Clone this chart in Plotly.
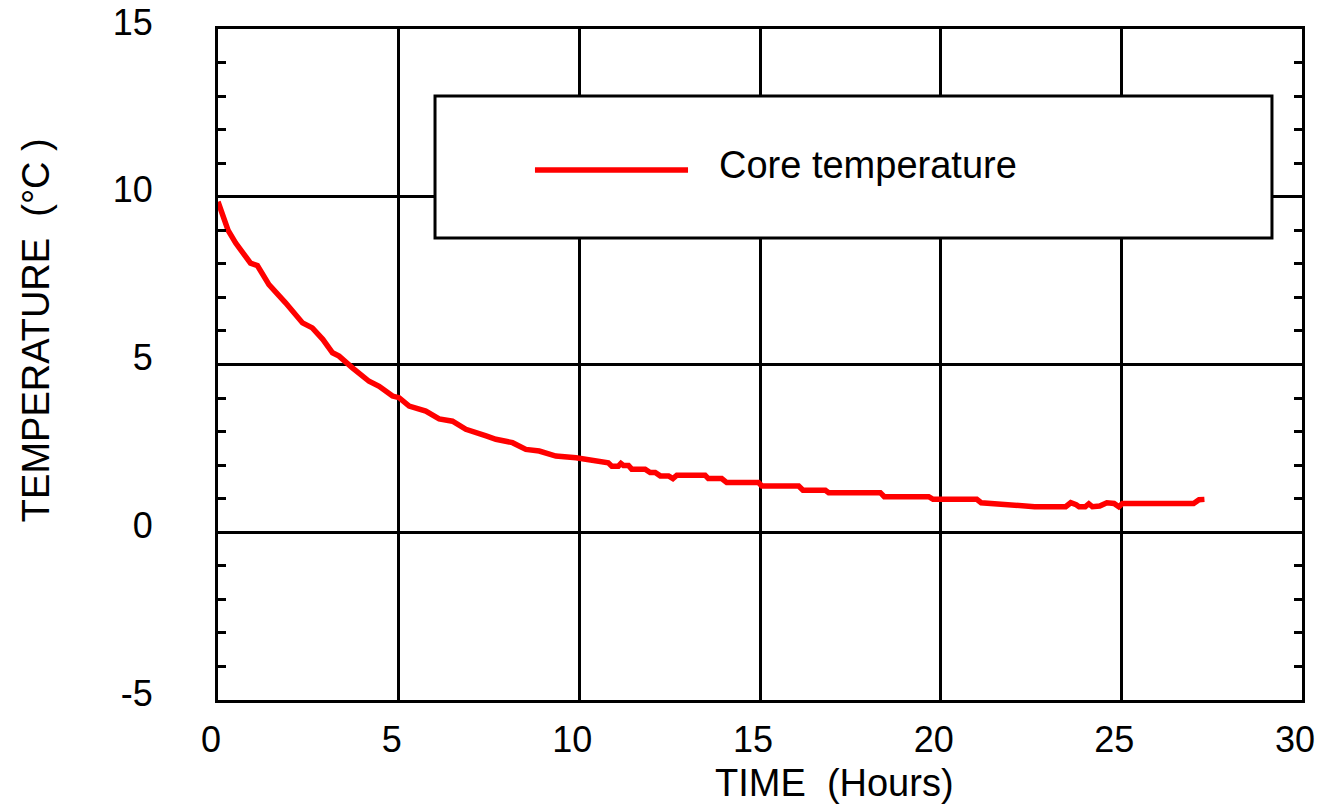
import plotly.graph_objects as go

# Core temperature readings (time in hours, temperature in °C)
time_h = [0.0, 0.1, 0.28, 0.49, 0.7, 0.9, 1.09, 1.25, 1.41, 1.87, 2.34, 2.61, 2.9, 3.17, 3.35,
          3.72, 4.18, 4.46, 4.83, 5.01, 5.29, 5.75, 6.12, 6.49, 6.86, 7.42, 7.69, 8.15, 8.52,
          8.89, 9.35, 9.91, 10.46, 10.80, 10.90, 11.08, 11.15, 11.22, 11.36, 11.45, 11.82,
          11.96, 12.1, 12.24, 12.47, 12.59, 12.70, 13.48, 13.57, 13.94, 14.08, 14.96, 15.05,
          16.07, 16.19, 16.81, 16.90, 18.33, 18.44, 19.67, 19.79, 21.0, 21.12, 22.0, 22.6,
          23.46, 23.6, 23.75, 23.83, 24.0, 24.1, 24.2, 24.4, 24.6, 24.8, 24.93, 25.03, 27.0,
          27.15, 27.3]
core_temp = [9.85, 9.55, 9.0, 8.62, 8.3, 8.02, 7.95, 7.7, 7.38, 6.84, 6.24, 6.09, 5.75, 5.35, 5.25,
             4.9, 4.5, 4.35, 4.06, 4.01, 3.76, 3.61, 3.38, 3.31, 3.07, 2.87, 2.77, 2.67, 2.47,
             2.42, 2.27, 2.22, 2.12, 2.07, 1.97, 1.97, 2.05, 1.99, 1.99, 1.88, 1.88,
             1.78, 1.78, 1.68, 1.68, 1.60, 1.70, 1.70, 1.60, 1.60, 1.48, 1.48, 1.38,
             1.38, 1.25, 1.25, 1.18, 1.18, 1.06, 1.06, 0.98, 0.98, 0.88, 0.81, 0.76,
             0.76, 0.88, 0.82, 0.76, 0.76, 0.85, 0.76, 0.78, 0.88, 0.86, 0.76, 0.86, 0.86,
             0.97, 0.98]

series_name = "Core temperature"
x_title = "TIME\u00a0\u00a0(Hours)"
y_title = "TEMPERATURE\u00a0\u00a0(\u00b0C\u00a0)"
x_ticks = [0, 5, 10, 15, 20, 25, 30]
y_ticks = [-5, 0, 5, 10, 15]

FONT = "Liberation Sans, Arial, sans-serif"
FS = 36
LW = 3

fig = go.Figure()
fig.add_trace(go.Scatter(x=time_h, y=core_temp, mode="lines", name=series_name,
                         line=dict(color="#ff0000", width=5.5), showlegend=False))

fig.update_layout(
    width=1317, height=806,
    margin=dict(l=218, r=15, t=29, b=106),
    paper_bgcolor="white", plot_bgcolor="white",
    font=dict(family=FONT, size=FS, color="black"),
    showlegend=False,
)
fig.update_xaxes(
    range=[0, 30], tickvals=x_ticks, ticktext=[str(v) for v in x_ticks],
    showgrid=True, gridcolor="black", gridwidth=LW, zeroline=False,
    showline=True, linecolor="black", linewidth=LW, mirror=True,
    ticks="", ticklabelshift=-7, ticklabelstandoff=6, automargin=False,
    tickfont=dict(family=FONT, size=FS, color="black"),
)
fig.update_yaxes(
    range=[-5, 15], tickvals=y_ticks, ticktext=[str(v) for v in y_ticks],
    showgrid=True, gridcolor="black", gridwidth=LW, zeroline=False,
    showline=True, linecolor="black", linewidth=LW, mirror="ticks",
    ticks="inside", ticklen=8, tickwidth=LW, tickcolor="black",
    minor=dict(dtick=1, tick0=0, ticks="inside", ticklen=8, tickwidth=LW,
               tickcolor="black", showgrid=False),
    ticklabelshift=-7, ticklabelstandoff=55, automargin=False,
    tickfont=dict(family=FONT, size=FS, color="black"),
)

# legend box drawn to match the original's wide legend
fig.add_shape(type="rect", xref="paper", yref="paper",
              x0=0.2002, x1=0.9723, y0=0.6885, y1=0.9001,
              line=dict(color="black", width=LW), fillcolor="white", layer="above")
fig.add_shape(type="line", xref="paper", yref="paper",
              x0=0.2924, x1=0.4336, y0=0.7899, y1=0.7899,
              line=dict(color="#ff0000", width=5.5), layer="above")
fig.add_annotation(text=series_name, xref="paper", yref="paper", x=0.4603, y=0.7973,
                   xanchor="left", yanchor="middle", showarrow=False,
                   font=dict(family=FONT, size=38, color="black"))

# axis titles
fig.add_annotation(text=x_title, xref="paper", yref="paper", x=0.569, y=-0.124,
                   xanchor="center", yanchor="middle", showarrow=False,
                   font=dict(family=FONT, size=38, color="black"))
fig.add_annotation(text=y_title, xref="paper", yref="paper", x=-0.168, y=0.551,
                   xanchor="center", yanchor="middle", showarrow=False, textangle=-90,
                   font=dict(family=FONT, size=38, color="black"))

fig.write_html("out.html")
